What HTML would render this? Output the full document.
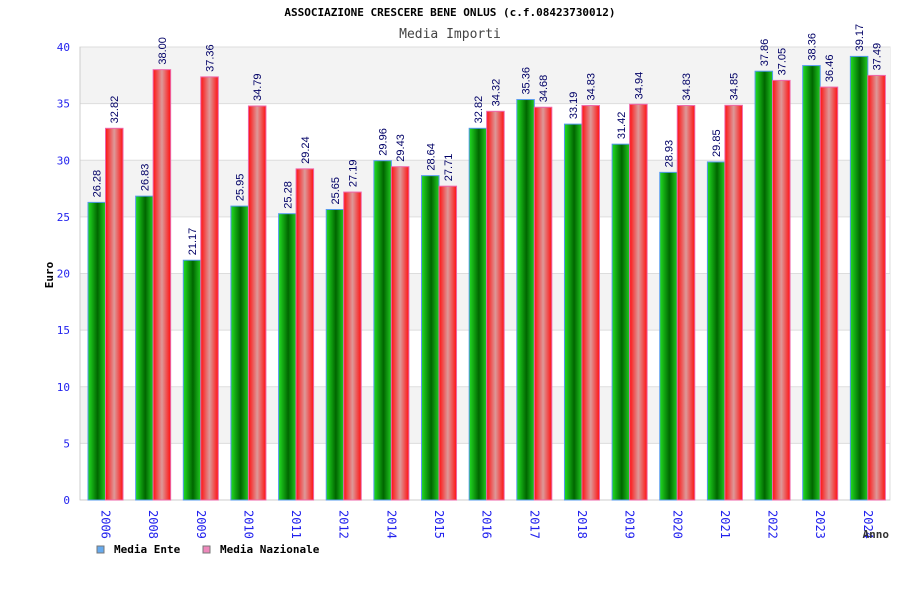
<!DOCTYPE html>
<html><head><meta charset="utf-8"><style>
body{margin:0;background:#fff}
svg{display:block;font-family:"DejaVu Sans Mono","Liberation Mono",monospace}
</style></head><body>
<svg id="c" width="900" height="600">
<defs>
<linearGradient id="gg" x1="0" x2="1"><stop offset="0" stop-color="#22dd22"/><stop offset="0.55" stop-color="#006600"/><stop offset="1" stop-color="#22cc22"/></linearGradient>
<linearGradient id="gr" x1="0" x2="1"><stop offset="0" stop-color="#ff1111"/><stop offset="0.5" stop-color="#dd9999"/><stop offset="1" stop-color="#ff1111"/></linearGradient>
</defs>
<text x="450" y="16" text-anchor="middle" font-size="11" font-weight="bold" fill="#000">ASSOCIAZIONE CRESCERE BENE ONLUS (c.f.08423730012)</text>
<text x="450" y="38" text-anchor="middle" font-size="13" fill="#444">Media Importi</text>
<g id="plot"></g>
</svg>
<script>
const categories=["2006","2008","2009","2010","2011","2012","2014","2015","2016","2017","2018","2019","2020","2021","2022","2023","2024"];
const mediaEnte=[26.28,26.83,21.17,25.95,25.28,25.65,29.96,28.64,32.82,35.36,33.19,31.42,28.93,29.85,37.86,38.36,39.17];
const mediaNazionale=[32.82,38.00,37.36,34.79,29.24,27.19,29.43,27.71,34.32,34.68,34.83,34.94,34.83,34.85,37.05,36.46,37.49];
const yTicks=[0,5,10,15,20,25,30,35,40];
const X0=80,X1=890,Y0=500,Y1=47,YMAX=40;
const ns="http://www.w3.org/2000/svg";
const g=document.getElementById('plot');
function y(v){return Y0-(v/YMAX)*(Y0-Y1);}
const gw=(X1-X0)/categories.length;
function mk(t,a,txt){const e=document.createElementNS(ns,t);for(const k in a)e.setAttribute(k,a[k]);if(txt!=null)e.textContent=txt;g.appendChild(e);return e;}
let e=mk('rect',{x:X0,y:Y1,width:X1-X0,height:Y0-Y1,fill:'#fff',stroke:'#ddd'});


for(let i=0;i<yTicks.length-1;i++){
  if((yTicks.length-2-i)%2===0){
    e=mk('rect',{x:X0,y:y(yTicks[i+1]),width:X1-X0,height:y(yTicks[i])-y(yTicks[i+1]),fill:'#f3f3f3'});
    
    
  }
}
yTicks.forEach(t=>{
  e=mk('line',{x1:X0,x2:X1,y1:y(t),y2:y(t),stroke:'#ddd'});
  
  
  e=mk('text',{x:70,y:y(t)+4,'text-anchor':'end','font-size':11,fill:'#2222ee'},t);
  
  
});
mk('line',{x1:X0,x2:X0,y1:Y1,y2:Y0,stroke:'#ccc'});
mk('line',{x1:X0,x2:X1,y1:Y0,y2:Y0,stroke:'#ccc'});
const bw=17.5;
categories.forEach((c,i)=>{
  const gx=X0+i*gw+8;
  [[mediaEnte[i],'url(#gg)','#5599ee','bar-media-ente'],[mediaNazionale[i],'url(#gr)','#ee66aa','bar-media-nazionale']].forEach((s,j)=>{
    const bx=gx+j*bw;
    e=mk('rect',{x:bx,y:y(s[0]),width:bw,height:Y0-y(s[0]),fill:s[1],stroke:s[2],'stroke-width':1});
    
    
    const lx=bx+bw/2+4,ly=y(s[0])-5;
    e=mk('text',{x:lx,y:ly,transform:`rotate(-90 ${lx} ${ly})`,'font-size':11,fill:'#000066','font-family':'"Liberation Sans Narrow","Liberation Sans",sans-serif'},s[0].toFixed(2));
    
    
  });
  const tx=gx+bw-4,ty=510;
  e=mk('text',{x:tx,y:ty,transform:`rotate(90 ${tx} ${ty})`,'font-size':12,fill:'#2222ee'},c);
  
  
});
e=mk('text',{x:53,y:275,transform:'rotate(-90 53 275)','text-anchor':'middle','font-size':11,'font-weight':'bold',fill:'#000'},'Euro');


e=mk('text',{x:889,y:538,'text-anchor':'end','font-size':11,'font-weight':'bold',fill:'#333'},'Anno');


e=mk('rect',{x:97,y:546,width:7,height:7,fill:'#66aaee',stroke:'#777'});


e=mk('text',{x:114,y:553,'font-size':11,'font-weight':'bold',fill:'#000'},'Media Ente');


e=mk('rect',{x:203,y:546,width:7,height:7,fill:'#ee88bb',stroke:'#777'});


e=mk('text',{x:220,y:553,'font-size':11,'font-weight':'bold',fill:'#000'},'Media Nazionale');


</script>
</body></html>
